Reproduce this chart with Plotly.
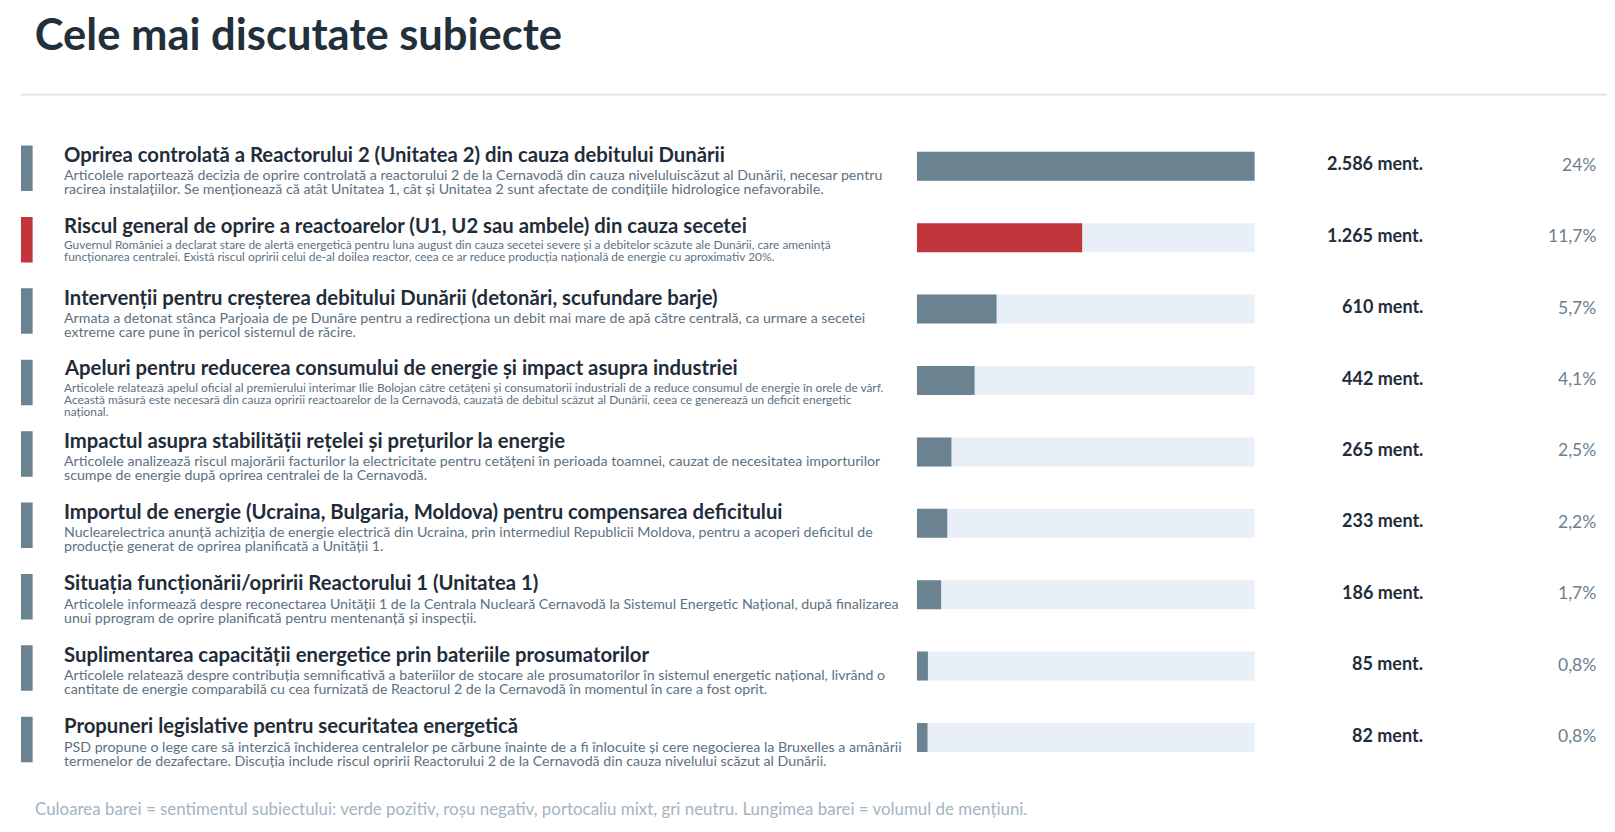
import plotly.graph_objects as go

# ---- data ----
topics = [
    "Oprirea controlată a Reactorului 2 (Unitatea 2) din cauza debitului Dunării",
    "Riscul general de oprire a reactoarelor (U1, U2 sau ambele) din cauza secetei",
    "Intervenții pentru creșterea debitului Dunării (detonări, scufundare barje)",
    "Apeluri pentru reducerea consumului de energie și impact asupra industriei",
    "Impactul asupra stabilității rețelei și prețurilor la energie",
    "Importul de energie (Ucraina, Bulgaria, Moldova) pentru compensarea deficitului",
    "Situația funcționării/opririi Reactorului 1 (Unitatea 1)",
    "Suplimentarea capacității energetice prin bateriile prosumatorilor",
    "Propuneri legislative pentru securitatea energetică",
]
descriptions = [
    ["Articolele raportează decizia de oprire controlată a reactorului 2 de la Cernavodă din cauza niveluluiscăzut al Dunării, necesar pentru",
     "racirea instalațiilor. Se menționează că atât Unitatea 1, cât și Unitatea 2 sunt afectate de condițiile hidrologice nefavorabile."],
    ["Guvernul României a declarat stare de alertă energetică pentru luna august din cauza secetei severe și a debitelor scăzute ale Dunării, care amenință",
     "funcționarea centralei. Există riscul opririi celui de-al doilea reactor, ceea ce ar reduce producția națională de energie cu aproximativ 20%."],
    ["Armata a detonat stânca Parjoaia de pe Dunăre pentru a redirecționa un debit mai mare de apă către centrală, ca urmare a secetei",
     "extreme care pune în pericol sistemul de răcire."],
    ["Articolele relatează apelul oficial al premierului interimar Ilie Bolojan către cetățeni și consumatorii industriali de a reduce consumul de energie în orele de vârf.",
     "Această măsură este necesară din cauza opririi reactoarelor de la Cernavodă, cauzată de debitul scăzut al Dunării, ceea ce generează un deficit energetic",
     "național."],
    ["Articolele analizează riscul majorării facturilor la electricitate pentru cetățeni în perioada toamnei, cauzat de necesitatea importurilor",
     "scumpe de energie după oprirea centralei de la Cernavodă."],
    ["Nuclearelectrica anunță achiziția de energie electrică din Ucraina, prin intermediul Republicii Moldova, pentru a acoperi deficitul de",
     "producție generat de oprirea planificată a Unității 1."],
    ["Articolele informează despre reconectarea Unității 1 de la Centrala Nucleară Cernavodă la Sistemul Energetic Național, după finalizarea",
     "unui pprogram de oprire planificată pentru mentenanță și inspecții."],
    ["Articolele relatează despre contribuția semnificativă a bateriilor de stocare ale prosumatorilor în sistemul energetic național, livrând o",
     "cantitate de energie comparabilă cu cea furnizată de Reactorul 2 de la Cernavodă în momentul în care a fost oprit."],
    ["PSD propune o lege care să interzică închiderea centralelor pe cărbune înainte de a fi înlocuite și cere negocierea la Bruxelles a amânării",
     "termenelor de dezafectare. Discuția include riscul opririi Reactorului 2 de la Cernavodă din cauza nivelului scăzut al Dunării."],
]
mentions = [2586, 1265, 610, 442, 265, 233, 186, 85, 82]
shares = ["24%", "11,7%", "5,7%", "4,1%", "2,5%", "2,2%", "1,7%", "0,8%", "0,8%"]
sentiment = ["neutru", "negativ", "neutru", "neutru", "neutru", "neutru", "neutru", "neutru", "neutru"]

title = "Cele mai discutate subiecte"
footnote = ("Culoarea barei = sentimentul subiectului: verde pozitiv, roșu negativ, portocaliu mixt, "
            "gri neutru. Lungimea barei = volumul de mențiuni.")

# ---- style ----
# page body keeps its default 8px margin, so the figure is 16px smaller than the window
W, H = 1599, 816
FONT = "Lato"
sent_colors = {"neutru": "#6b8291", "negativ": "#c0363a", "pozitiv": "#3f9a5a", "mixt": "#e08a2c"}
colors = [sent_colors[s] for s in sentiment]
rows = list(range(len(topics)))
row_h = 71.4          # px per row
first_row = 158.3     # px from top of the figure to the centre of the first bar
top_px = first_row - row_h / 2
bot_px = top_px + row_h * len(topics)
text_x = 55.7 / W
flat = dict(showarrow=False, borderpad=0, borderwidth=0)

fig = go.Figure()
# track
fig.add_trace(go.Bar(y=rows, x=[max(mentions)] * len(rows), orientation="h",
                     marker=dict(color="#e8eff6", line_width=0), width=29 / row_h,
                     hoverinfo="skip", xaxis="x", yaxis="y"))
# value bars
fig.add_trace(go.Bar(y=rows, x=mentions, orientation="h",
                     marker=dict(color=colors, line_width=0), width=29 / row_h,
                     xaxis="x", yaxis="y"))
# left sentiment markers
mw = 45.5 / row_h
fig.add_trace(go.Bar(y=rows, x=[1] * len(rows), orientation="h",
                     marker=dict(color=colors, line_width=0), width=mw, offset=-mw / 2 + 2 / row_h,
                     hoverinfo="skip", xaxis="x2", yaxis="y"))

ann = []
for i in rows:
    small = len(descriptions[i][0]) > 140
    ann.append(dict(x=text_x, y=i, xref="paper", yref="y", xanchor="left", yanchor="middle",
                    yshift=13.2 if small else 12.4, text=topics[i], **flat,
                    font=dict(family=FONT, size=20.3, color="#1f2d3a", weight="bold")))
    # tight leading: line step is 1.3em of the outer size, glyphs use the inner span size
    fs = 11.9 if small else 14.2
    step = 12.0 if small else 13.6
    first = -7.0 if small else -8.7
    n = len(descriptions[i])
    body = "<br>".join(f'<span style="font-size:{fs}px">{line}</span>' for line in descriptions[i])
    ann.append(dict(x=text_x, y=i, xref="paper", yref="y", xanchor="left", yanchor="middle",
                    yshift=first - step * (n - 1) / 2, text=body, align="left", **flat,
                    font=dict(family=FONT, size=step / 1.3, color="#5c7181")))
    ann.append(dict(x=1414.8 / W, y=i, xref="paper", yref="y", xanchor="right", yanchor="middle",
                    yshift=3, text=f"{mentions[i]:,}".replace(",", ".") + " ment.", **flat,
                    font=dict(family=FONT, size=18, color="#1f2d3a", weight="bold")))
    ann.append(dict(x=1587.8 / W, y=i, xref="paper", yref="y", xanchor="right", yanchor="middle",
                    yshift=2, text=shares[i], **flat,
                    font=dict(family=FONT, size=17.5, color="#6b7f8f")))

ann.append(dict(x=27.2 / W, y=1 - 800.7 / H, xref="paper", yref="paper", xanchor="left", yanchor="middle",
                text=footnote, **flat, font=dict(family=FONT, size=16.9, color="#a3b5c2")))

fig.update_layout(
    width=W, height=H, margin=dict(l=0, r=0, t=0, b=0),
    paper_bgcolor="white", plot_bgcolor="white",
    barmode="overlay", showlegend=False,
    title=dict(text=title, x=26.8 / W, xanchor="left", y=1 - 26.5 / H, yanchor="middle",
               font=dict(family=FONT, size=43.5, color="#22303c", weight="bold")),
    xaxis=dict(domain=[908.8 / W, 1246.8 / W], range=[0, max(mentions)], visible=False, fixedrange=True),
    xaxis2=dict(domain=[12.8 / W, 24.8 / W], range=[0, 1], visible=False, fixedrange=True, anchor="y"),
    yaxis=dict(domain=[1 - bot_px / H, 1 - top_px / H], range=[len(rows) - 0.5, -0.5],
               visible=False, fixedrange=True),
    annotations=ann,
    shapes=[dict(type="line", xref="paper", yref="paper", x0=12.8 / W, x1=1,
                 y0=1 - 86.8 / H, y1=1 - 86.8 / H, line=dict(color="#dce9f1", width=2))],
)

fig.write_html("out.html")
